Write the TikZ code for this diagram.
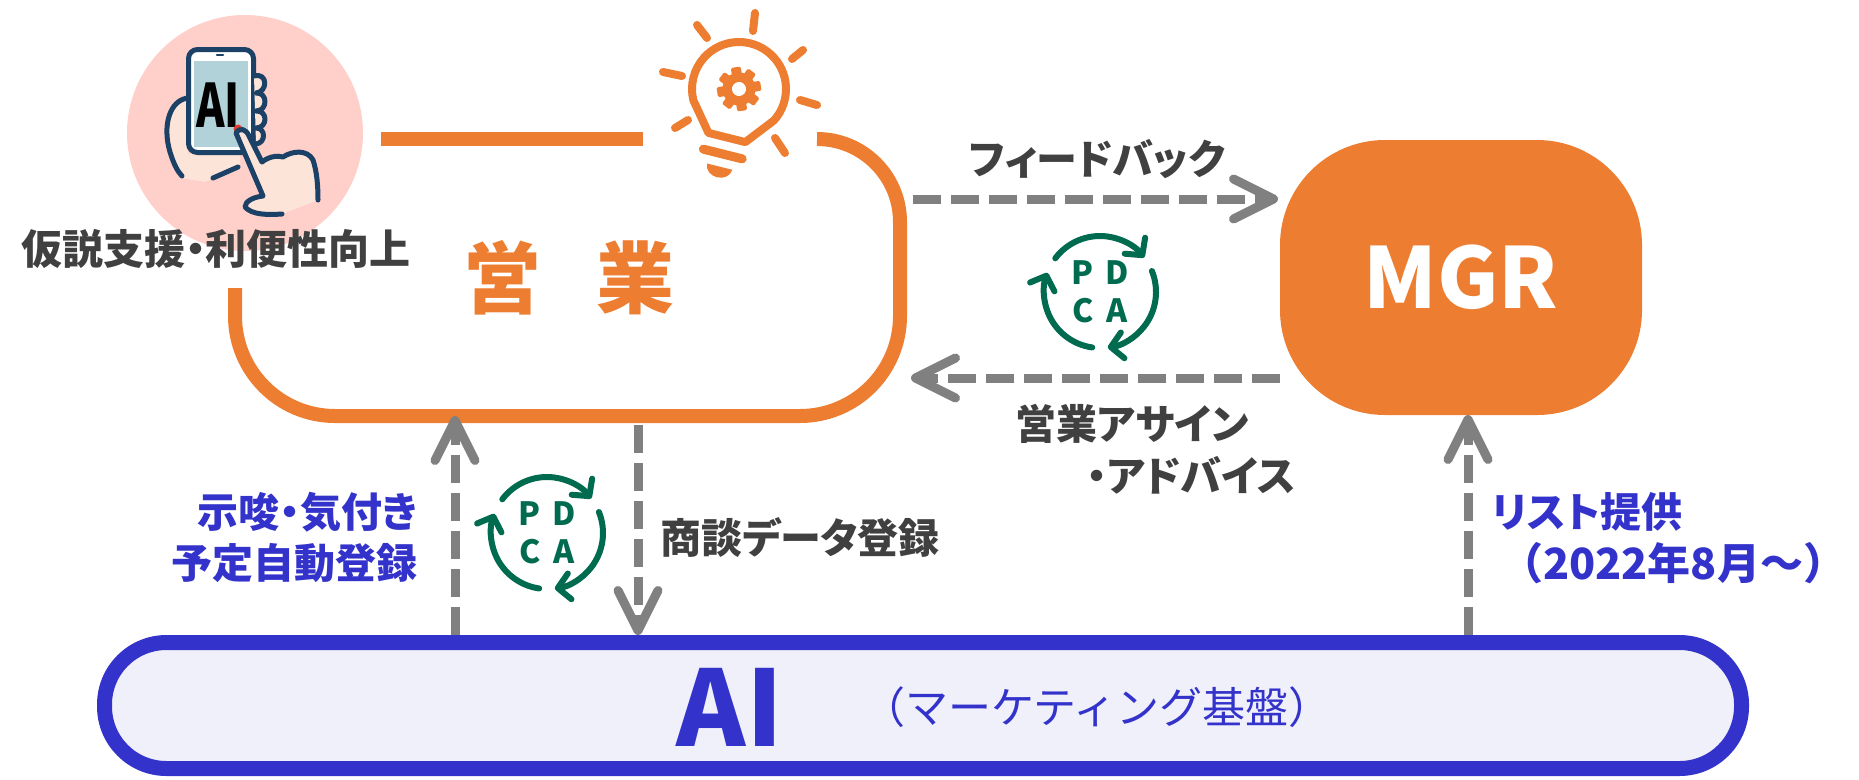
\documentclass[tikz,border=0pt]{standalone}
\usepackage{fontspec}
\setmainfont{Noto Sans CJK JP}[RawFeature=+palt]
\newfontfamily\fullwidth{Noto Sans CJK JP}
\usetikzlibrary{positioning,
                arrows.meta}
\definecolor{salesorange}{HTML}{ED7D31}
\definecolor{flowgray}{HTML}{808080}
\definecolor{textgray}{HTML}{404040}
\definecolor{baseblue}{HTML}{3333CC}
\definecolor{basefill}{HTML}{F0F0FA}
\definecolor{cyclegreen}{HTML}{006B4F}
\definecolor{circlepink}{HTML}{FFCFCA}
\definecolor{handnavy}{HTML}{1C4166}
\definecolor{handskin}{HTML}{FDE4D8}
\definecolor{screenblue}{HTML}{B2D2D9}
\definecolor{tapred}{HTML}{E2402E}

\begin{document}
\begin{tikzpicture}[x=1pt,y=1pt]

\tikzset{
salesline/.style={
draw=salesorange,
line width=14pt
},
salesarea/.style={
minimum width=665pt,
minimum height=277pt,
inner sep=0pt,
outer sep=0pt
},
mgrbox/.style={
fill=salesorange,
rounded corners=105pt,
minimum width=362pt,
minimum height=275pt,
inner sep=0pt,
outer sep=0pt,
text=white,
font=\bfseries\fontsize{84}{90}\selectfont
},
basebox/.style={
draw=baseblue,
fill=basefill,
line width=15pt,
rounded corners=62pt,
minimum width=1637pt,
minimum height=126pt,
inner sep=0pt
},
flow/.style={
draw=flowgray,
line width=9pt,
dash pattern=on 28pt off 10pt,
-{Straight Barb[length=40pt,width=40pt,round]}
},
cyclearrow/.style={
draw=cyclegreen,
line width=6pt,
line cap=round,
-{Straight Barb[length=12pt,width=26pt,round]}
},
cycleletter/.style={
text=cyclegreen,
inner sep=0pt,
font=\bfseries\fontsize{32}{34}\selectfont
},
labeltext/.style={
inner sep=0pt,
font=\bfseries\fontsize{41}{51}\selectfont
},
graylabel/.style={
labeltext,
text=textgray
},
bluelabel/.style={
labeltext,
text=baseblue
},
bulbline/.style={
draw=salesorange,
line width=8pt,
line cap=round,
line join=round
},
handline/.style={
draw=handnavy,
line width=5pt,
line cap=round,
line join=round
}
}

\useasboundingbox (0,0) rectangle (1859,-779);

%--------------------------------------------------
% PHONE ICON
%--------------------------------------------------

\fill[circlepink] (245,-133) circle (118);

% left hand behind the phone
\fill[handskin] (188,-98) .. controls (170,-100) and (162,-125) .. (170,-152)
  .. controls (174,-165) and (178,-172) .. (182,-178) -- (205,-182)
  -- (240,-166) -- (240,-154) -- (188,-154) -- cycle;
\draw[handline] (188,-98) .. controls (170,-100) and (162,-125) .. (170,-152)
  .. controls (174,-165) and (178,-172) .. (182,-176);
\draw[handline] (213,-178) -- (238,-167);

% phone
\draw[handline,fill=white,rounded corners=9pt] (188.5,-49.5) rectangle (253.5,-152.5);
\fill[screenblue] (194,-61) rectangle (248,-147);
\draw[handline,line width=2.5pt] (217,-55) -- (223,-55);
\node[inner sep=0pt,xscale=0.72,transform shape,
      font=\bfseries\fontsize{60}{60}\selectfont] (phoneai) at (218,-105) {AI};
\fill[tapred] (238,-129) circle (4.5);

% fingers on the right edge
\filldraw[handline,fill=handskin] (254,-76) .. controls (268,-72) and (268,-92) .. (256,-93)
  .. controls (268,-92) and (268,-111) .. (256,-111)
  .. controls (268,-110) and (268,-128) .. (256,-128)
  .. controls (266,-128) and (266,-143) .. (256,-144);

% pointing hand
\filldraw[handline,fill=handskin] (318,-200) .. controls (318,-186) and (317,-172) .. (313,-160)
  .. controls (307,-149) and (292,-151) .. (283,-157)
  .. controls (277,-155) and (268,-157) .. (262,-162) -- (249,-136)
  .. controls (246,-129) and (240,-127) .. (236,-133) -- (263,-196)
  .. controls (254,-197) and (245,-201) .. (245,-207)
  .. controls (252,-215) and (268,-215) .. (282,-214);

\node[graylabel] (support) at (216,-249) {仮説支援・利便性向上};

%--------------------------------------------------
% SALES
%--------------------------------------------------

\node[salesarea] (sales) at (567.5,-277.5) {};

\draw[salesline] (381,-139) -- (643,-139);
\draw[salesline] (817,-139) [rounded corners=83pt] -- (900,-139)
  [rounded corners=100pt] -- (900,-416) -- (235,-416) -- (235,-288);

\node[text=salesorange,inner sep=0pt,
      font=\bfseries\fontsize{78}{80}\selectfont]
  (salestitle) at (569,-278) {営\hspace{56pt}業};

% light bulb
\foreach \ax/\ay/\bx/\by in {755/13/753/31, 697/25/707/38, 803/50/792/59,
                             663/72/682/76, 800/100/817/105, 675/128/688/120,
                             775/138/785/153}
  \draw[bulbline] (\ax,-\ay) -- (\bx,-\by);

\begin{scope}[shift={(739,-89)},rotate=-14]
\draw[bulbline] (-28:47) arc[start angle=-28,end angle=208,radius=47]
  -- (-19,-50) -- (19,-50) -- cycle;
\draw[bulbline,line width=9pt] (-20,-67) -- (20,-67);
\fill[salesorange] (-13,-80) -- (13,-80)
  arc[start angle=0,end angle=-180,x radius=13,y radius=11] -- cycle;
\foreach \a in {0,45,...,315}
  \fill[salesorange,rotate=\a+22.5,rounded corners=1.5pt] (-5,13) rectangle (5,22);
\fill[salesorange] (0,0) circle (16.5);
\fill[white] (0,0) circle (7);
\end{scope}

%--------------------------------------------------
% MGR
%--------------------------------------------------

\node[mgrbox] (mgr) at (1461,-277.5) {MGR};

\draw[flow] ([shift={(13,78.5)}]sales.east) -- ([shift={(-2,78.5)}]mgr.west);
\draw[flow] ([shift={(0,-100.5)}]mgr.west) -- ([shift={(11,-100.5)}]sales.east);

\node[graylabel] (feedback) at (1097,-159) {フィードバック};
\node[graylabel] (assign) at (1132,-424) {営業アサイン};
\node[graylabel] (advice) at (1191,-475) {・アドバイス};

%--------------------------------------------------
% AI BASE
%--------------------------------------------------

\node[basebox] (base) at (923,-705.5) {};

\node[text=baseblue,inner sep=0pt,font=\bfseries\fontsize{105}{110}\selectfont]
  (aititle) at (730,-707) {AI};
\node[text=baseblue,inner sep=0pt,font=\fullwidth\fontsize{43}{46}\selectfont]
  (aisub) at (1097,-707) {（マーケティング基盤）};

\coordinate (hint) at ([xshift=-112.5]sales.south);
\coordinate (record) at ([xshift=70.5]sales.south);
\coordinate (list) at ([xshift=7]mgr.south);

\draw[flow] (base.north -| hint) -- (hint);
\draw[flow] ([yshift=-9]record) -- (base.north -| record);
\draw[flow] (base.north -| list) -- (list);

\node[bluelabel,align=right,anchor=east] (hintlabel) at (418,-537.5)
  {示唆・気付き\\予定自動登録};
\node[graylabel,anchor=west] (recordlabel) at (660,-537) {商談データ登録};
\node[bluelabel,anchor=west] (listlabel) at (1492,-512) {リスト提供};
\node[bluelabel,anchor=west,font=\bfseries\fullwidth\fontsize{43}{51}\selectfont]
  (listdate) at (1500,-563) {（2022年8月～）};

%--------------------------------------------------
% PDCA CYCLES
%--------------------------------------------------

\coordinate (cycTop) at (1100,-292);
\coordinate (cycBottom) at (547,-533);

\foreach \c in {cycTop,cycBottom}{
  \draw[cyclearrow] ([shift={(143:56)}]\c) arc[start angle=143,end angle=38,radius=56];
  \draw[cyclearrow] ([shift={(22:56)}]\c) arc[start angle=22,end angle=-82,radius=56];
  \draw[cyclearrow] ([shift={(-98:56)}]\c) arc[start angle=-98,end angle=-200,radius=56];
  \node[cycleletter] (\c-pd) at ([yshift=19]\c) {P\hspace{12pt}D};
  \node[cycleletter] (\c-ca) at ([yshift=-19]\c) {C\hspace{12pt}A};
}

\end{tikzpicture}
\end{document}
